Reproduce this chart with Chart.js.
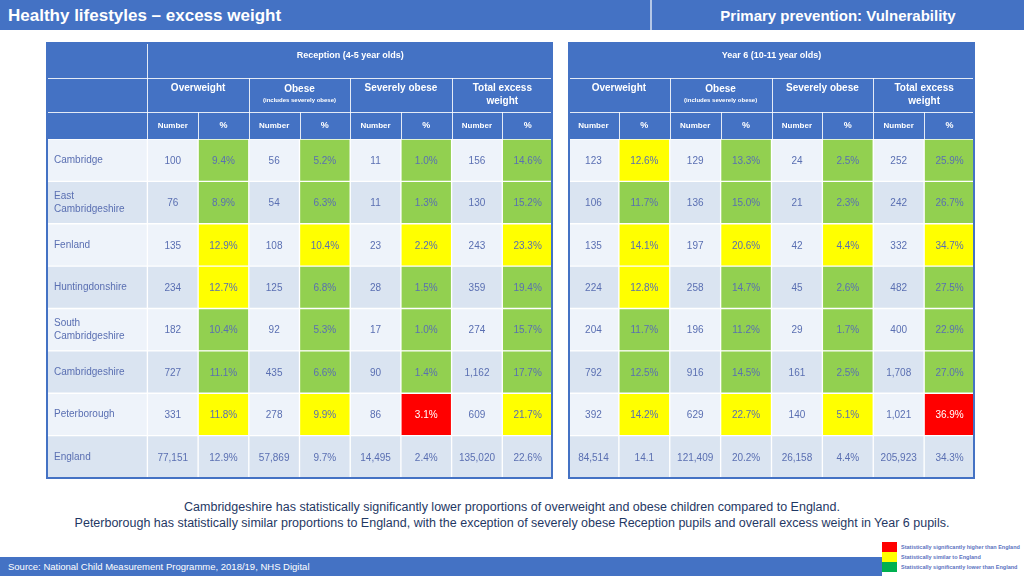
<!DOCTYPE html>
<html lang="en">
<head>
  <meta charset="UTF-8" />
  <title>Healthy lifestyles – excess weight</title>
  <script src="https://cdn.jsdelivr.net/npm/chart.js"></script>
  <style>
    body {
      margin: 0;
      width: 1024px;
      height: 576px;
      position: relative;
      overflow: hidden;
      background: #fff;
      font-family: "Liberation Sans", Arial, sans-serif;
    }
    .topbar {
      position: absolute;
      left: 0; top: 0;
      width: 1024px; height: 30px;
      background: #4472C4;
      color: #fff;
      font-weight: bold;
    }
    .topbar .left { position: absolute; left: 8px; top: 0; line-height: 32px; font-size: 17px; }
    .topbar .sep { position: absolute; left: 650px; top: 0; width: 2px; height: 30px; background: #b4c7e7; }
    .topbar .right { position: absolute; left: 652px; right: 0; top: 0; line-height: 32px; font-size: 15px; text-align: center; }
    canvas { position: absolute; }
    #recChart { left: 46px; top: 42px; }
    #y6Chart { left: 568px; top: 42px; }
    .note {
      position: absolute;
      left: 0; width: 1024px;
      text-align: center;
      font-size: 12.5px;
      color: #1F3864;
    }
    .footer {
      position: absolute;
      left: 0; top: 557px;
      width: 882px; height: 19px;
      background: #4472C4;
      color: #fff;
      font-size: 9.5px;
      line-height: 20px;
      padding-left: 8px;
      box-sizing: border-box;
    }
    .key { position: absolute; left: 882px; width: 15px; height: 10px; }
    .keytext { position: absolute; left: 901px; font-size: 5.5px; font-weight: bold; color: #5B72C0; line-height: 10px; }
  </style>
</head>
<body>
  <div class="topbar">
    <div class="left">Healthy lifestyles – excess weight</div>
    <div class="sep"></div>
    <div class="right">Primary prevention: Vulnerability</div>
  </div>

  <canvas id="recChart" width="507" height="437"></canvas>
  <canvas id="y6Chart" width="407" height="437"></canvas>

  <div class="note" style="top:500px;">Cambridgeshire has statistically significantly lower proportions of overweight and obese children compared to England.</div>
  <div class="note" style="top:516px;">Peterborough has statistically similar proportions to England, with the exception of severely obese Reception pupils and overall excess weight in Year 6 pupils.</div>

  <div class="footer">Source: National Child Measurement Programme, 2018/19, NHS Digital</div>

  <div class="key" style="top:542px; background:#FF0000;"></div>
  <div class="key" style="top:552px; background:#FFFF00;"></div>
  <div class="key" style="top:562px; background:#00B050;"></div>
  <div class="keytext" style="top:542px;">Statistically significantly higher than England</div>
  <div class="keytext" style="top:552px;">Statistically similar to England</div>
  <div class="keytext" style="top:562px;">Statistically significantly lower than England</div>

<script>
  const areas = ['Cambridge', 'East Cambridgeshire', 'Fenland', 'Huntingdonshire',
                 'South Cambridgeshire', 'Cambridgeshire', 'Peterborough', 'England'];

  const groupLabels = ['Overweight', 'Obese', 'Severely obese', 'Total excess\nweight'];
  const subLabels = ['Number', '%'];

  // Reception (4-5 year olds)
  const recOverweightNum = [100, 76, 135, 234, 182, 727, 331, 77151];
  const recOverweightPct = [9.4, 8.9, 12.9, 12.7, 10.4, 11.1, 11.8, 12.9];
  const recOverweightSig = ['L', 'L', 'S', 'S', 'L', 'L', 'S', ''];
  const recObeseNum = [56, 54, 108, 125, 92, 435, 278, 57869];
  const recObesePct = [5.2, 6.3, 10.4, 6.8, 5.3, 6.6, 9.9, 9.7];
  const recObeseSig = ['L', 'L', 'S', 'L', 'L', 'L', 'S', ''];
  const recSevereNum = [11, 11, 23, 28, 17, 90, 86, 14495];
  const recSeverePct = [1.0, 1.3, 2.2, 1.5, 1.0, 1.4, 3.1, 2.4];
  const recSevereSig = ['L', 'L', 'S', 'L', 'L', 'L', 'H', ''];
  const recTotalNum = [156, 130, 243, 359, 274, 1162, 609, 135020];
  const recTotalPct = [14.6, 15.2, 23.3, 19.4, 15.7, 17.7, 21.7, 22.6];
  const recTotalSig = ['L', 'L', 'S', 'L', 'L', 'L', 'S', ''];

  // Year 6 (10-11 year olds)
  const y6OverweightNum = [123, 106, 135, 224, 204, 792, 392, 84514];
  const y6OverweightPct = [12.6, 11.7, 14.1, 12.8, 11.7, 12.5, 14.2, '14.1'];
  const y6OverweightSig = ['S', 'L', 'S', 'S', 'L', 'L', 'S', ''];
  const y6ObeseNum = [129, 136, 197, 258, 196, 916, 629, 121409];
  const y6ObesePct = [13.3, 15.0, 20.6, 14.7, 11.2, 14.5, 22.7, 20.2];
  const y6ObeseSig = ['L', 'L', 'S', 'L', 'L', 'L', 'S', ''];
  const y6SevereNum = [24, 21, 42, 45, 29, 161, 140, 26158];
  const y6SeverePct = [2.5, 2.3, 4.4, 2.6, 1.7, 2.5, 5.1, 4.4];
  const y6SevereSig = ['L', 'L', 'S', 'L', 'L', 'L', 'S', ''];
  const y6TotalNum = [252, 242, 332, 482, 400, 1708, 1021, 205923];
  const y6TotalPct = [25.9, 26.7, 34.7, 27.5, 22.9, 27.0, 36.9, 34.3];
  const y6TotalSig = ['L', 'L', 'S', 'L', 'L', 'L', 'H', ''];

  const headerBlue = '#4472C4';
  const cellText = '#5A6FB2';
  const shade = ['#EEF3FA', '#DAE4F1'];
  const sigColors = { H: '#FF0000', S: '#FFFF00', L: '#92D050' };
  const FONT = '"Liberation Sans", Arial, sans-serif';

  const fmtNum = v => v.toLocaleString('en-GB');
  const fmtPct = v => typeof v === 'number' ? v.toFixed(1) + '%' : v;

  // header row bottoms, in canvas pixels
  const ROW1 = 36, ROW2 = 70;

  const tablePlugin = {
    id: 'tablePlugin',
    beforeDatasetsDraw(chart, args, opts) {
      const ctx = chart.ctx;
      const x = chart.scales.x;
      const top = chart.chartArea.top;
      const w = chart.width;
      const first = opts.nameSpan;
      ctx.save();
      ctx.fillStyle = headerBlue;
      ctx.fillRect(0, 0, w, top);

      ctx.strokeStyle = 'rgba(255,255,255,0.85)';
      ctx.lineWidth = 1;
      ctx.beginPath();
      ctx.moveTo(0, ROW1 + 0.5); ctx.lineTo(w, ROW1 + 0.5);
      ctx.moveTo(0, ROW2 + 0.5); ctx.lineTo(w, ROW2 + 0.5);
      if (first > 0) {
        const px = Math.round(x.getPixelForValue(first)) + 0.5;
        ctx.moveTo(px, 0); ctx.lineTo(px, top);
      }
      for (let g = 1; g < groupLabels.length; g++) {
        const px = Math.round(x.getPixelForValue(first + g * 2)) + 0.5;
        ctx.moveTo(px, ROW1); ctx.lineTo(px, top);
      }
      for (let g = 0; g < groupLabels.length; g++) {
        const px = Math.round(x.getPixelForValue(first + g * 2 + 1)) + 0.5;
        ctx.moveTo(px, ROW2); ctx.lineTo(px, top);
      }
      ctx.stroke();

      ctx.fillStyle = '#fff';
      ctx.textAlign = 'center';
      ctx.textBaseline = 'middle';
      ctx.font = 'bold 9px ' + FONT;
      const mid = (x.getPixelForValue(first) + x.getPixelForValue(x.max)) / 2;
      ctx.fillText(opts.title, mid, 14);

      groupLabels.forEach((lab, g) => {
        const cx = x.getPixelForValue(first + g * 2 + 1);
        if (lab === 'Obese') {
          ctx.font = 'bold 10px ' + FONT;
          ctx.fillText(lab, cx, 47);
          ctx.font = 'bold 6px ' + FONT;
          ctx.fillText('(includes severely obese)', cx, 58);
        } else {
          ctx.font = 'bold 10px ' + FONT;
          lab.split('\n').forEach((line, k) => ctx.fillText(line, cx, 46 + k * 13));
        }
        subLabels.forEach((s, k) => {
          ctx.font = (s === '%' ? 'bold 9px ' : 'bold 8px ') + FONT;
          ctx.fillText(s, x.getPixelForValue(first + g * 2 + k + 0.5), 84);
        });
      });
      ctx.restore();
    },
    afterDatasetsDraw(chart) {
      const ctx = chart.ctx;
      const x = chart.scales.x;
      const y = chart.scales.y;
      ctx.save();
      ctx.textBaseline = 'middle';
      chart.data.datasets.forEach(ds => {
        ds.data.forEach((span, r) => {
          const cy = y.getPixelForValue(r);
          ctx.fillStyle = ds.textColors ? ds.textColors[r] : cellText;
          ctx.font = '10px ' + FONT;
          if (ds.isName) {
            ctx.textAlign = 'left';
            const name = ds.cellLabels[r];
            const sp = name.indexOf(' ');
            const lines = sp > 0 ? [name.slice(0, sp), name.slice(sp + 1)] : [name];
            const x0 = x.getPixelForValue(span[0]) + 8;
            lines.forEach((ln, k) => ctx.fillText(ln, x0, cy + (k - (lines.length - 1) / 2) * 13));
          } else {
            ctx.textAlign = 'center';
            ctx.fillText(ds.cellLabels[r], x.getPixelForValue((span[0] + span[1]) / 2), cy + 1);
          }
        });
      });
      // outer frame
      ctx.strokeStyle = headerBlue;
      ctx.lineWidth = 2;
      ctx.strokeRect(1, 1, chart.width - 2, chart.height - 2);
      ctx.restore();
    }
  };

  function buildPanel(canvasId, title, groups, withNames) {
    const nameSpan = withNames ? 2 : 0;
    const datasets = [];
    const base = {
      borderColor: '#ffffff',
      borderWidth: 1,
      borderSkipped: false,
      barPercentage: 1,
      categoryPercentage: 1,
      grouped: false
    };
    if (withNames) {
      datasets.push(Object.assign({}, base, {
        data: areas.map(() => [0, nameSpan]),
        backgroundColor: areas.map((_, r) => shade[r % 2]),
        cellLabels: areas,
        isName: true
      }));
    }
    groups.forEach((g, gi) => {
      const c = nameSpan + gi * 2;
      datasets.push(Object.assign({}, base, {
        data: areas.map(() => [c, c + 1]),
        backgroundColor: areas.map((_, r) => shade[r % 2]),
        cellLabels: g.num.map(fmtNum)
      }));
      datasets.push(Object.assign({}, base, {
        data: areas.map(() => [c + 1, c + 2]),
        backgroundColor: g.sig.map((s, r) => sigColors[s] || shade[r % 2]),
        textColors: g.sig.map(s => s === 'H' ? '#ffffff' : cellText),
        cellLabels: g.pct.map(fmtPct)
      }));
    });

    return new Chart(document.getElementById(canvasId), {
      type: 'bar',
      data: { labels: areas, datasets },
      options: {
        indexAxis: 'y',
        responsive: false,
        animation: false,
        layout: { padding: { top: 97, bottom: 1, left: 0, right: 0 } },
        scales: {
          x: { type: 'linear', min: 0, max: nameSpan + groups.length * 2, display: false },
          y: { type: 'category', display: false }
        },
        plugins: {
          legend: { display: false },
          tooltip: { enabled: false },
          tablePlugin: { title, nameSpan }
        }
      },
      plugins: [tablePlugin]
    });
  }

  buildPanel('recChart', 'Reception (4-5 year olds)', [
    { num: recOverweightNum, pct: recOverweightPct, sig: recOverweightSig },
    { num: recObeseNum, pct: recObesePct, sig: recObeseSig },
    { num: recSevereNum, pct: recSeverePct, sig: recSevereSig },
    { num: recTotalNum, pct: recTotalPct, sig: recTotalSig }
  ], true);

  buildPanel('y6Chart', 'Year 6 (10-11 year olds)', [
    { num: y6OverweightNum, pct: y6OverweightPct, sig: y6OverweightSig },
    { num: y6ObeseNum, pct: y6ObesePct, sig: y6ObeseSig },
    { num: y6SevereNum, pct: y6SeverePct, sig: y6SevereSig },
    { num: y6TotalNum, pct: y6TotalPct, sig: y6TotalSig }
  ], false);
</script>
</body>
</html>
